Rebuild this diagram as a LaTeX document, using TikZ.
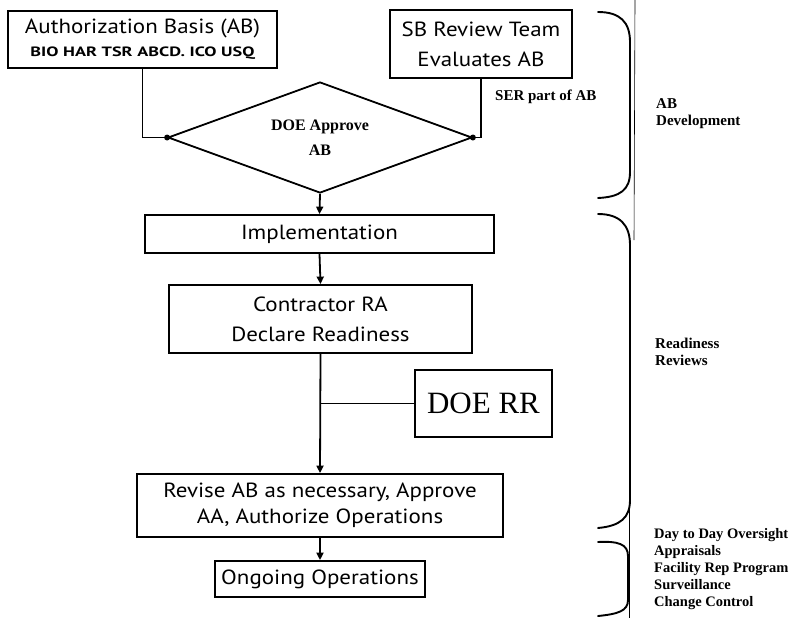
\documentclass[tikz,border=0pt]{standalone}
\usepackage{fontspec}
\setmainfont{PT Sans}
\newfontfamily\boxfont[FakeStretch=1.12]{PT Sans}
\newfontfamily\widefont[FakeStretch=1.35]{PT Sans}
\newfontfamily\tnr{Liberation Serif}
\usetikzlibrary{shapes.geometric,arrows.meta}
\begin{document}
\begin{tikzpicture}[x=1pt,y=-1pt,
  box/.style={draw,line width=1.8pt,inner sep=0pt,align=center},
  conn/.style={line width=1.8pt},
  arr/.style={conn,-{Triangle[length=7.5pt,width=7pt]}},
  lbl/.style={font=\tnr\bfseries\fontsize{15}{17}\selectfont,anchor=west,inner sep=0pt,align=left},
  jdot/.style={circle,fill,inner sep=0pt,minimum size=6pt},
  bracestroke/.style={line width=1.9pt,line cap=round},
  scanline/.style={line width=0.6pt}]
\useasboundingbox (0,0) rectangle (797,618);

% boxes
\node[box,minimum width=269pt,minimum height=57pt,font=\boxfont\fontsize{20.5}{23}\selectfont] (ab) at (142.5,39.5)
  {Authorization Basis (AB)\\{\widefont\bfseries\fontsize{13.5}{14}\selectfont BIO HAR TSR ABCD. ICO USQ}};
\node[box,minimum width=182pt,minimum height=68pt,font=\boxfont\fontsize{20.5}{30}\selectfont] (sb) at (481,44)
  {SB Review Team\\Evaluates AB};
\node[diamond,draw,line width=1.8pt,shape aspect=2.74,minimum width=304pt,minimum height=111pt,inner sep=0pt,
  align=center,font=\tnr\bfseries\fontsize{16}{25}\selectfont] (dia) at (320,137.5) {DOE Approve\\AB};
\node[box,minimum width=349pt,minimum height=38pt,font=\boxfont\fontsize{20.5}{23}\selectfont] (impl) at (319.5,234) {Implementation};
\node[box,minimum width=303pt,minimum height=68pt,font=\boxfont\fontsize{20.5}{30}\selectfont] (contr) at (320.5,319)
  {Contractor RA\\Declare Readiness};
\node[box,minimum width=137pt,minimum height=67pt,font=\tnr\fontsize{31}{34}\selectfont] (doerr) at (483.5,403.5) {DOE RR};
\node[box,minimum width=366pt,minimum height=63pt,font=\boxfont\fontsize{20.5}{26}\selectfont] (rev) at (320,505.5)
  {Revise AB as necessary, Approve\\AA, Authorize Operations};
\node[box,minimum width=210pt,minimum height=36pt,font=\boxfont\fontsize{20.5}{23}\selectfont] (ongo) at (320,579) {Ongoing Operations};

% connectors
\draw[conn] (ab.south) |- (dia.west);
\draw[conn] (sb.south) |- (dia.east);
\node[jdot] (dl) at (dia.west) {};
\node[jdot] (dr) at (dia.east) {};
\draw[arr] (dia.south) -- (impl.north);
\draw[arr] (impl.south) -- (contr.north);
\draw[arr] (contr.south) -- (rev.north);
\draw[conn] (doerr.west) -- (doerr.west -| contr.south);
\draw[arr] (rev.south) -- (ongo.north);

% labels
\node[lbl] (ser) at (495,97) {SER part of AB};
\node[lbl] (abdev) at (656,114) {AB\\Development};
\node[lbl] (ready) at (655,352) {Readiness\\Reviews};
\node[lbl,font=\tnr\bfseries\fontsize{14.5}{17}\selectfont] (oversight) at (654,569)
  {Day to Day Oversight\\Appraisals\\Facility Rep Program\\Surveillance\\Change Control};

% braces
\draw[bracestroke] (598,12) .. controls (620,12) and (630,22) .. (630,42) -- (630,172)
  .. controls (630,190) and (620,197) .. (598,198);
\draw[bracestroke] (598,214) .. controls (620,214) and (630,225) .. (630,245) -- (630,500)
  .. controls (630,518) and (620,526) .. (598,528);
\draw[bracestroke] (598,542) .. controls (618,541) and (628,544) .. (628,556) -- (628,600)
  .. controls (628,611) and (618,614) .. (598,616);
\draw[scanline] (635,0) -- (634,240);
\draw[scanline] (629,505) -- (629,618);
\end{tikzpicture}
\end{document}
